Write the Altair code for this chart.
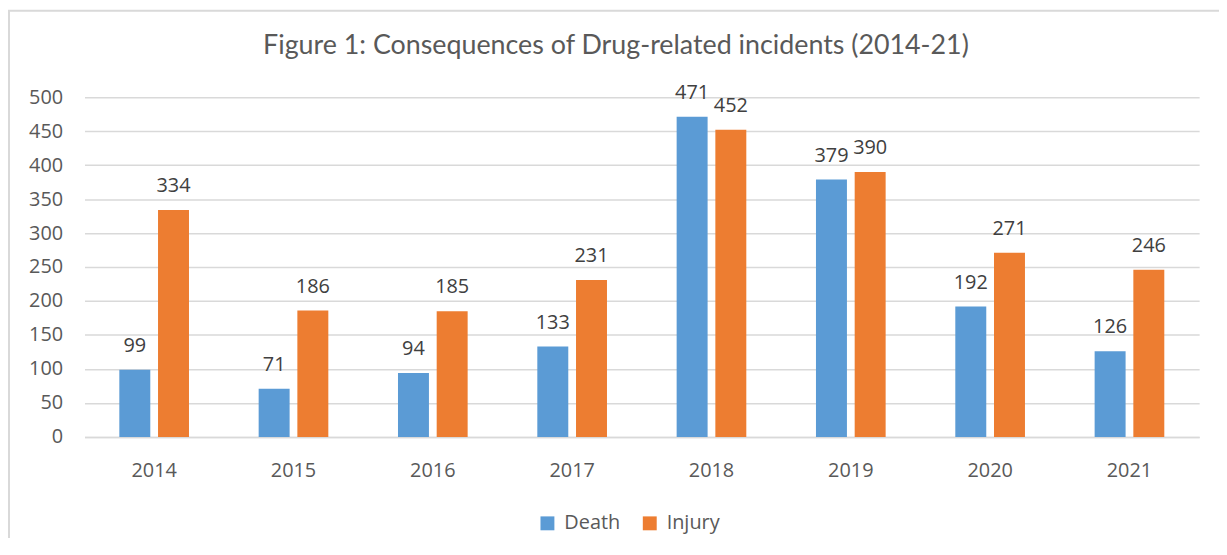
import altair as alt
import pandas as pd

years = ["2014", "2015", "2016", "2017", "2018", "2019", "2020", "2021"]
death = [99, 71, 94, 133, 471, 379, 192, 126]
injury = [334, 186, 185, 231, 452, 390, 271, 246]
series = ["Death", "Injury"]
colors = ["#5B9BD5", "#ED7D31"]
y_ticks = list(range(0, 501, 50))

rows = []
for i, yr in enumerate(years):
    rows.append({"Year": yr, "Type": "Death", "Value": death[i]})
    rows.append({"Year": yr, "Type": "Injury", "Value": injury[i]})
df = pd.DataFrame(rows)

W, H = 1122, 342
FONT = "Open Sans"
GREY = "#595959"

x_enc = alt.X("Year:N", sort=years,
              scale=alt.Scale(paddingInner=0.5, paddingOuter=0.25),
              axis=alt.Axis(title=None, labelAngle=0, labelFont=FONT, labelFontSize=20,
                            labelColor=GREY, ticks=False, domain=True, domainColor="#D9D9D9",
                            domainWidth=1.5, labelPadding=24, grid=False))
y_enc = alt.Y("Value:Q", scale=alt.Scale(domain=[0, 500], nice=False),
              axis=alt.Axis(title=None, values=y_ticks, labelFont=FONT, labelFontSize=20,
                            labelColor=GREY, ticks=False, domain=False, labelPadding=22,
                            labelOverlap=False, gridColor="#D9D9D9", gridWidth=1.5))
xoff = alt.XOffset("Type:N", sort=series, scale=alt.Scale(paddingInner=0.2, paddingOuter=0))
color = alt.Color("Type:N", sort=series, scale=alt.Scale(domain=series, range=colors),
                  legend=alt.Legend(title=None, orient="none", legendX=456, legendY=419,
                                    direction="horizontal", symbolType="square", symbolSize=196,
                                    symbolStrokeWidth=0, labelFont=FONT, labelFontSize=20,
                                    labelColor=GREY, labelOffset=7, columnPadding=19))

bars = alt.Chart(df).mark_bar().encode(x=x_enc, y=y_enc, xOffset=xoff, color=color)

labels = alt.Chart(df).mark_text(font=FONT, fontSize=20, color="#404040",
                                 baseline="alphabetic", dy=-18).encode(
    x=x_enc, y=y_enc, xOffset=xoff, text="Value:Q")

border = alt.Chart(pd.DataFrame({"a": [0]})).mark_rect(
    fill=None, stroke="#D9D9D9", strokeWidth=2, clip=False).encode(
    x=alt.value(-76), x2=alt.value(W + 60), y=alt.value(-87), y2=alt.value(H + 140))

chart = alt.layer(border, bars, labels).properties(
    width=W, height=H,
    title=alt.TitleParams("Figure 1: Consequences of Drug-related incidents (2014-21)",
                          font="Lato", fontSize=27, fontWeight="normal", color=GREY,
                          anchor="middle", dx=-26, offset=14, baseline="alphabetic", dy=86),
    autosize=alt.AutoSizeParams(type="none"),
    padding={"left": 77, "top": 88, "right": 20, "bottom": 100},
).configure_view(stroke=None)

chart.save("out.html", embed_options={"renderer": "svg", "actions": False})
